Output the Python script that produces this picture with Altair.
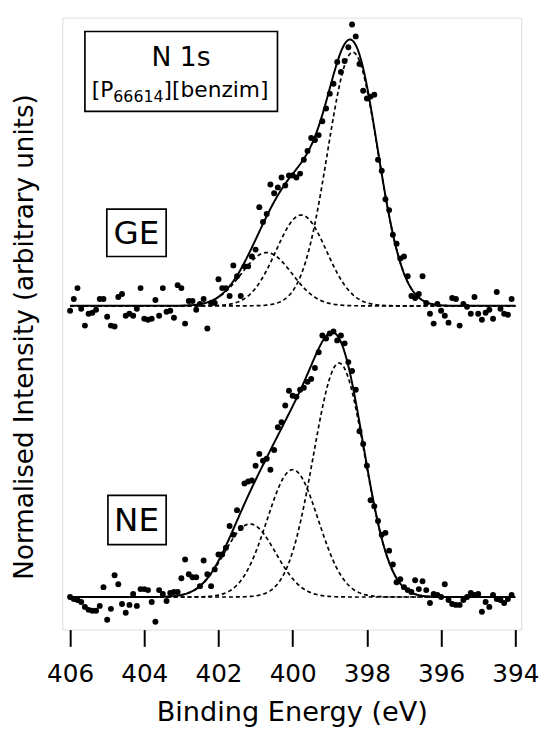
import altair as alt
import numpy as np
import pandas as pd

FONT = "DejaVu Sans"

# ---- measured spectra (binding energy grid 406.0 -> 394.1 eV, 0.1 eV step) ----
energy_grid = [round(406.0 - 0.1 * i, 1) for i in range(120)]

ge_counts = [-5, 7, 18, -3, -20, -8, -7, -4, 7, 7,
             -11, -20, -21, 9, 12, -10, -8, -10, -3, 18,
             -13, -14, -13, 6, -10, 18, -6, -5, -12, 21,
             18, -18, 5, 5, -4, 2, 7, -23, 3, 3,
             27, 18, 18, 10, 41, 30, 10, 40, 40, 50,
             57, 100, 85, 93, 123, 114, 120, 130, 122, 132,
             132, 130, 134, 148, 157, 170, 168, 173, 187, 200,
             215, 225, 247, 237, 248, 262, 285, 273, 245, 218,
             210, 212, 214, 148, 137, 108, 97, 72, 63, 48,
             50, 30, 10, 8, 12, 30, 3, -8, -18, 2,
             -5, -10, -17, 8, 7, -20, 2, -1, -8, 9,
             -8, -14, -7, -4, -13, 14, -3, -8, -9, 7]

ne_counts = [0, -2, -3, -5, -10, -13, -14, -14, -9, 10,
             -23, -12, 22, 13, -7, -16, -8, 3, -9, 8,
             8, 7, -5, -25, 7, 3, -4, 4, 5, 5,
             19, 38, 23, 20, 20, 11, 37, 23, 11, 28,
             43, 43, 50, 72, 63, 88, 70, 115, 117, 118,
             133, 145, 138, 140, 129, 149, 172, 177, 194, 209,
             204, 203, 210, 212, 218, 221, 232, 248, 265, 262,
             267, 269, 260, 265, 257, 238, 229, 210, 168, 155,
             133, 98, 92, 77, 63, 65, 47, 33, 15, 18,
             10, 7, 5, 17, 8, 16, 7, -6, 3, 2,
             0, 13, -3, -7, -8, -8, -3, 0, 4, 2,
             3, -15, -5, -10, 2, -2, -3, -6, -2, 2]

ge_offset = 295   # vertical stacking offset of the GE spectrum
ne_offset = 0

# ---- Gaussian fit components (centre eV, height, sigma eV) ----
ge_centers = [398.38, 399.77, 400.70]
ge_heights = [257, 92, 54]
ge_sigma = 0.68
ne_centers = [398.75, 400.00, 401.15]
ne_heights = [237, 129, 74]
ne_sigma = 0.69

tick_values = [406, 404, 402, 400, 398, 396, 394]

# ---- annotations ----
box_labels = ["title", "GE", "NE"]
box_e1 = [405.60, 405.01, 404.98]
box_e2 = [400.41, 403.41, 403.41]
box_v1 = [573, 393, 103]
box_v2 = [492, 345, 53]

center_text = ["N 1s", "GE", "NE"]
center_e = [403.01, 404.21, 404.21]
center_v = [538, 358, 67]
center_size = [27, 33, 33]

left_text = ["[P", "66614", "][benzim]"]
left_e = [405.415, 404.835, 403.48]
left_v = [507, 501.5, 507]
left_size = [22, 16, 22]

# ---- build tables ----
pts = pd.DataFrame({
    "energy": energy_grid * 2,
    "v": [c + ge_offset for c in ge_counts] + [c + ne_offset for c in ne_counts],
    "sample": ["GE"] * 120 + ["NE"] * 120,
})

fine = np.linspace(394.0, 406.0, 601)
comp_rows = []
fit_rows = []
for name, centers, heights, sig, off in [("GE", ge_centers, ge_heights, ge_sigma, ge_offset),
                                          ("NE", ne_centers, ne_heights, ne_sigma, ne_offset)]:
    total = np.zeros_like(fine)
    for k, (c, h) in enumerate(zip(centers, heights)):
        g = h * np.exp(-(fine - c) ** 2 / (2 * sig ** 2))
        total += g
        for e, val in zip(fine, g):
            comp_rows.append({"energy": e, "v": val + off, "comp": f"{name}{k}"})
    for e, val in zip(fine, total):
        fit_rows.append({"energy": e, "v": val + off, "sample": name})
comps = pd.DataFrame(comp_rows)
fits = pd.DataFrame(fit_rows)

boxes = pd.DataFrame({"name": box_labels, "e1": box_e1, "e2": box_e2, "v1": box_v1, "v2": box_v2})
clabels = pd.DataFrame({"text": center_text, "energy": center_e, "v": center_v, "size": center_size})
llabels = pd.DataFrame({"text": left_text, "energy": left_e, "v": left_v, "size": left_size})

xscale = alt.Scale(domain=[393.84, 406.21], reverse=True, nice=False, zero=False)
yscale = alt.Scale(domain=[-33, 587], nice=False, zero=False)

xaxis = alt.Axis(values=tick_values, format="d", title="Binding Energy (eV)",
                 domain=False, grid=False, tickSize=17, tickWidth=2, tickColor="black",
                 labelFont=FONT, labelFontSize=25, labelColor="black", labelPadding=16,
                 labelFlush=False,
                 titleFont=FONT, titleFontSize=27.5, titleFontWeight="normal", titleColor="black",
                 titleBaseline="alphabetic", titleY=92)
yaxis = alt.Axis(title="Normalised Intensity (arbitrary units)", labels=False, ticks=False,
                 domain=False, grid=False,
                 titleFont=FONT, titleFontSize=26.5, titleFontWeight="normal", titleColor="black",
                 titleBaseline="alphabetic", titleX=-30, titleY=323, titleAlign="center")

comp_layer = alt.Chart(comps).mark_line(color="black", strokeWidth=1.7, strokeDash=[4, 3]).encode(
    x=alt.X("energy:Q", scale=xscale, axis=xaxis),
    y=alt.Y("v:Q", scale=yscale, axis=yaxis),
    detail="comp:N",
)
fit_layer = alt.Chart(fits).mark_line(color="black", strokeWidth=2).encode(
    x=alt.X("energy:Q", scale=xscale),
    y=alt.Y("v:Q", scale=yscale),
    detail="sample:N",
)
pt_layer = alt.Chart(pts).mark_circle(color="black", opacity=1, size=36).encode(
    x=alt.X("energy:Q", scale=xscale),
    y=alt.Y("v:Q", scale=yscale),
)
box_layer = alt.Chart(boxes).mark_rect(fillOpacity=0, stroke="black", strokeWidth=1.7).encode(
    x=alt.X("e1:Q", scale=xscale), x2="e2:Q",
    y=alt.Y("v1:Q", scale=yscale), y2="v2:Q",
)
ctext_layer = alt.Chart(clabels).mark_text(font=FONT, color="black", align="center",
                                           baseline="alphabetic").encode(
    x=alt.X("energy:Q", scale=xscale),
    y=alt.Y("v:Q", scale=yscale),
    text="text:N",
    size=alt.Size("size:Q", scale=None, legend=None),
)
ltext_layer = alt.Chart(llabels).mark_text(font=FONT, color="black", align="left",
                                           baseline="alphabetic").encode(
    x=alt.X("energy:Q", scale=xscale),
    y=alt.Y("v:Q", scale=yscale),
    text="text:N",
    size=alt.Size("size:Q", scale=None, legend=None),
)

chart = alt.layer(comp_layer, fit_layer, pt_layer, box_layer, ctext_layer, ltext_layer).properties(
    width=465, height=620,
    padding={"left": 55, "top": 5, "right": 18, "bottom": 100},
    autosize=alt.AutoSizeParams(type="none"),
).configure_view(stroke="black", strokeWidth=2).configure(background="white")

chart.save("out.html", embed_options={"renderer": "svg", "actions": False})
